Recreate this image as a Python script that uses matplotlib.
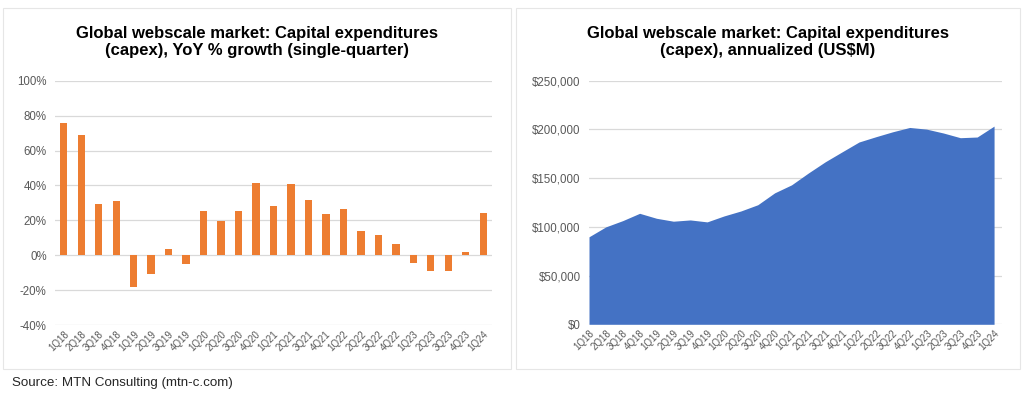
import numpy as np
import matplotlib
matplotlib.use("Agg")
from matplotlib import pyplot as plt
from matplotlib.patches import Rectangle
from matplotlib.ticker import FuncFormatter

# quarters shown on both charts
quarters = ["1Q18", "2Q18", "3Q18", "4Q18", "1Q19", "2Q19", "3Q19", "4Q19",
            "1Q20", "2Q20", "3Q20", "4Q20", "1Q21", "2Q21", "3Q21", "4Q21",
            "1Q22", "2Q22", "3Q22", "4Q22", "1Q23", "2Q23", "3Q23", "4Q23", "1Q24"]

# YoY % growth, single quarter
yoy_growth = [75.8, 69.1, 29.3, 30.9, -18.3, -11.0, 3.8, -4.8,
              25.3, 19.4, 25.3, 41.3, 28.2, 40.6, 31.6, 23.8,
              26.5, 13.7, 11.6, 6.3, -4.2, -9.3, -9.0, 1.7, 24.2]

# annualized capex, US$M
capex_annual = [89800, 100000, 106400, 113900, 108800, 105800, 107100, 105100,
                111200, 116300, 122700, 134900, 143100, 155300, 166800, 177000,
                187100, 192500, 197600, 202000, 200300, 196300, 191500, 192200, 203400]

plt.rcParams['font.family'] = ['Liberation Sans', 'DejaVu Sans']
ORANGE = '#ED7D31'
BLUE = '#4472C4'
GRID = '#D9D9D9'
TICK = '#595959'

fig = plt.figure(figsize=(10.24, 3.97), dpi=100)
W, H = 1024.0, 397.0

# panel frames (pixel coords -> figure fraction)
for x0, x1 in [(3, 511), (516, 1020)]:
    fig.patches.append(Rectangle((x0 / W, 1 - 369 / H), (x1 - x0) / W, (369 - 8) / H,
                                 transform=fig.transFigure, facecolor='none',
                                 edgecolor='#E6E6E6', linewidth=0.8, zorder=0))

x = np.arange(len(quarters))

def style(ax):
    for s in ax.spines.values():
        s.set_visible(False)
    ax.grid(axis='y', color=GRID, linewidth=0.9)
    ax.set_axisbelow(True)
    ax.tick_params(axis='both', length=0, colors=TICK)
    ax.tick_params(axis='y', labelsize=8.3, pad=6)
    ax.set_xticks(x)
    ax.set_xticklabels(quarters, rotation=45, ha='right', rotation_mode='anchor',
                       fontsize=7, color=TICK)
    ax.tick_params(axis='x', pad=3)

# left: YoY growth bars
ax1 = fig.add_axes([55 / W, 1 - 325 / H, (492 - 55) / W, (325 - 80.7) / H])
ax1.bar(x, yoy_growth, width=0.42, color=ORANGE, zorder=2)
ax1.set_xlim(-0.5, 24.5)
ax1.set_ylim(-40, 100)
ax1.set_yticks(np.arange(-40, 101, 20))
ax1.yaxis.set_major_formatter(FuncFormatter(lambda v, p: '%d%%' % v))
style(ax1)

# right: annualized capex area
ax2 = fig.add_axes([589 / W, 1 - 324.3 / H, (1002 - 589) / W, (324.3 - 80.7) / H])
ax2.fill_between(x, capex_annual, 0, color=BLUE, linewidth=0, zorder=2)
ax2.set_xlim(0, 24.47)
ax2.set_ylim(0, 250000)
ax2.set_yticks(np.arange(0, 250001, 50000))
ax2.yaxis.set_major_formatter(FuncFormatter(lambda v, p: '${:,.0f}'.format(v)))
style(ax2)

fig.text(257 / W, 1 - 42 / H,
         "Global webscale market: Capital expenditures\n(capex), YoY % growth (single-quarter)",
         ha='center', va='center', fontsize=12, fontweight='bold', linespacing=1.2)
fig.text(768 / W, 1 - 42 / H,
         "Global webscale market: Capital expenditures\n(capex), annualized (US$M)",
         ha='center', va='center', fontsize=12, fontweight='bold', linespacing=1.2)

fig.text(12 / W, 1 - 383 / H, "Source: MTN Consulting (mtn-c.com)",
         ha='left', va='center', fontsize=9.6, color='#262626')

fig.savefig('out.png', dpi=100)
